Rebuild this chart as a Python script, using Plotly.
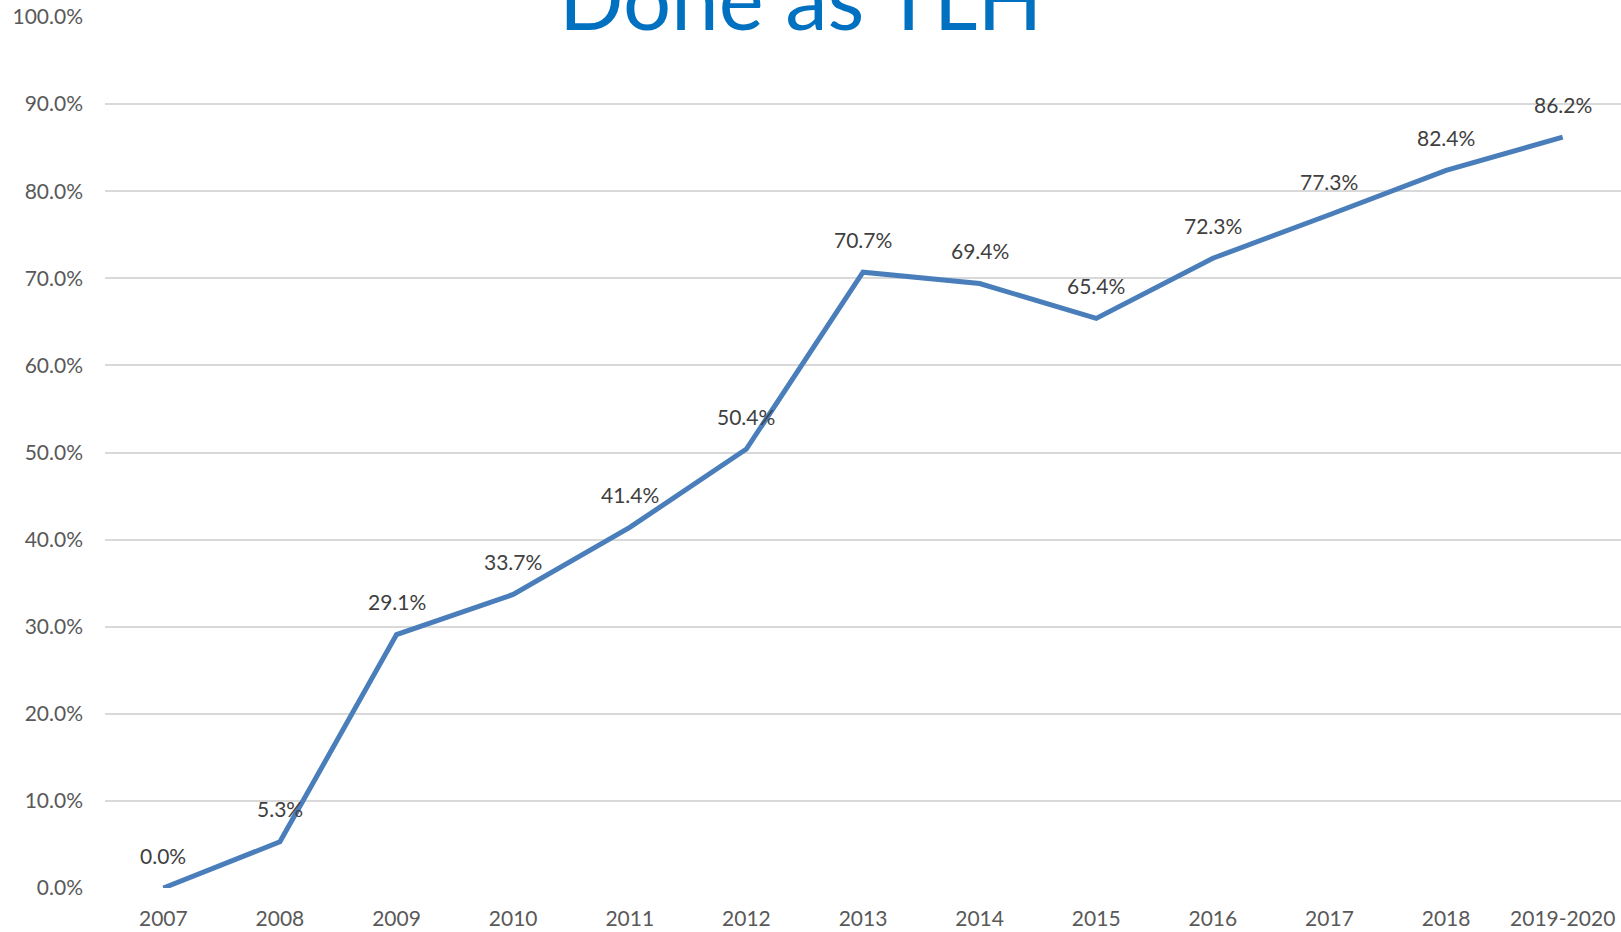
import plotly.graph_objects as go

categories = ["2007", "2008", "2009", "2010", "2011", "2012", "2013",
              "2014", "2015", "2016", "2017", "2018", "2019-2020"]
values = [0.0, 0.053, 0.291, 0.337, 0.414, 0.504, 0.707,
          0.694, 0.654, 0.723, 0.773, 0.824, 0.862]
labels = [f"{v*100:.1f}%" for v in values]
title_text = "Done as TLH"

FONT = "Lato"

fig = go.Figure()
fig.add_trace(go.Scatter(
    x=list(range(len(categories))), y=values, mode="lines",
    line=dict(color="#4a7ebb", width=5),
    hoverinfo="skip", showlegend=False,
))

for i, (v, t) in enumerate(zip(values, labels)):
    fig.add_annotation(x=i, y=v, text=t, showarrow=False, yshift=33,
                       font=dict(family=FONT, size=21, color="#404040"))

fig.add_annotation(xref="paper", yref="paper", x=0.4585, y=1.0,
                   xanchor="center", yanchor="bottom", yshift=-33,
                   text=title_text, showarrow=False,
                   font=dict(family=FONT, size=85, color="#0070C0"))

fig.update_layout(
    width=1621, height=932,
    margin=dict(l=105, r=0, t=17, b=44),
    paper_bgcolor="white", plot_bgcolor="white",
    font=dict(family=FONT, size=21, color="#595959"),
)
fig.update_xaxes(range=[-0.5, 12.5], showgrid=False,
                 showline=False, zeroline=False, ticks="",
                 tickmode="array", tickvals=list(range(len(categories))),
                 ticktext=categories,
                 tickfont=dict(family=FONT, size=21, color="#595959"),
                 ticklabelstandoff=16)
fig.update_yaxes(range=[0, 1.0], dtick=0.1, tickformat=".1%",
                 showgrid=True, gridcolor="#d9d9d9", gridwidth=1.5,
                 zeroline=False, showline=False, ticks="",
                 ticklabelstandoff=21,
                 tickfont=dict(family=FONT, size=21, color="#595959"))

fig.write_html("out.html", config={"displayModeBar": False},
               post_script="document.body.style.margin='0';document.body.style.overflow='hidden';")
